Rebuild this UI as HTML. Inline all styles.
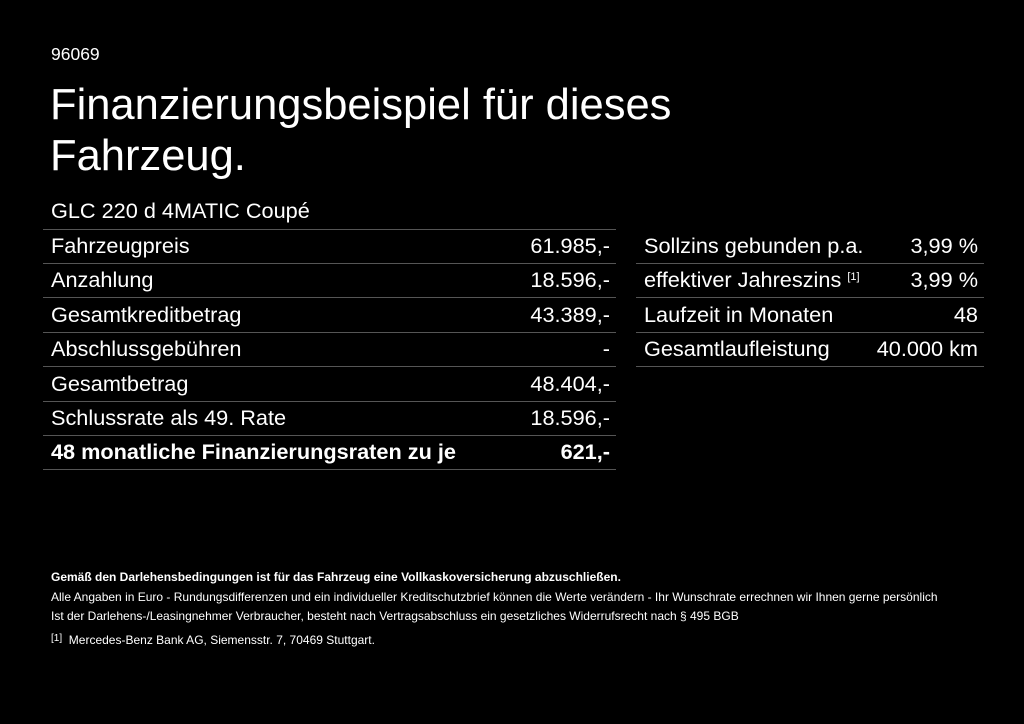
<!DOCTYPE html>
<html><head><meta charset="utf-8"><style>
body{margin:0;width:1024px;height:724px;background:#000;color:#fff;font-family:"Liberation Sans",Arial,sans-serif;position:relative;overflow:hidden}
.a{position:absolute;white-space:nowrap}
.row{position:absolute;height:34px;line-height:34px;font-size:21.7px;border-bottom:1px solid #555}
.row span.r{position:absolute;right:6px;top:0}
.row span.l{position:absolute;left:8px;top:0}
.s{font-size:12px;}
sup{font-size:11px;position:relative;top:-7px;vertical-align:baseline;line-height:0}
</style></head><body>
<div class="a" style="left:51px;top:44px;font-size:17.5px">96069</div>
<div class="a" style="left:50px;top:80px;font-size:43.5px;line-height:51px">Finanzierungsbeispiel für dieses<br>Fahrzeug.</div>
<div class="a" style="left:51px;top:198px;font-size:21.7px">GLC 220 d 4MATIC Coupé</div>
<div class="row" style="left:43px;width:573px;top:195px"></div>
<div class="row" style="left:43px;width:573px;top:229px"><span class="l">Fahrzeugpreis</span><span class="r">61.985,-</span></div>
<div class="row" style="left:43px;width:573px;top:263px"><span class="l">Anzahlung</span><span class="r">18.596,-</span></div>
<div class="row" style="left:43px;width:573px;top:298px"><span class="l">Gesamtkreditbetrag</span><span class="r">43.389,-</span></div>
<div class="row" style="left:43px;width:573px;top:332px"><span class="l">Abschlussgebühren</span><span class="r">-</span></div>
<div class="row" style="left:43px;width:573px;top:367px"><span class="l">Gesamtbetrag</span><span class="r">48.404,-</span></div>
<div class="row" style="left:43px;width:573px;top:401px"><span class="l">Schlussrate als 49. Rate</span><span class="r">18.596,-</span></div>
<div class="row" style="left:43px;width:573px;top:435px;font-weight:bold"><span class="l">48 monatliche Finanzierungsraten zu je</span><span class="r">621,-</span></div>
<div class="row" style="left:636px;width:348px;top:229px"><span class="l">Sollzins gebunden p.a.</span><span class="r">3,99 %</span></div>
<div class="row" style="left:636px;width:348px;top:263px"><span class="l">effektiver Jahreszins <sup>[1]</sup></span><span class="r">3,99 %</span></div>
<div class="row" style="left:636px;width:348px;top:298px"><span class="l">Laufzeit in Monaten</span><span class="r">48</span></div>
<div class="row" style="left:636px;width:348px;top:332px"><span class="l">Gesamtlaufleistung</span><span class="r">40.000 km</span></div>
<div class="a s" style="left:51px;top:570px;font-weight:bold">Gemäß den Darlehensbedingungen ist für das Fahrzeug eine Vollkaskoversicherung abzuschließen.</div>
<div class="a s" style="left:51px;top:590px">Alle Angaben in Euro - Rundungsdifferenzen und ein individueller Kreditschutzbrief können die Werte verändern - Ihr Wunschrate errechnen wir Ihnen gerne persönlich</div>
<div class="a s" style="left:51px;top:609px">Ist der Darlehens-/Leasingnehmer Verbraucher, besteht nach Vertragsabschluss ein gesetzliches Widerrufsrecht nach § 495 BGB</div>
<div class="a s" style="left:51px;top:633px"><span style="font-size:10px;position:relative;top:-3px">[1]</span>&nbsp; Mercedes-Benz Bank AG, Siemensstr. 7, 70469 Stuttgart.</div>
</body></html>
